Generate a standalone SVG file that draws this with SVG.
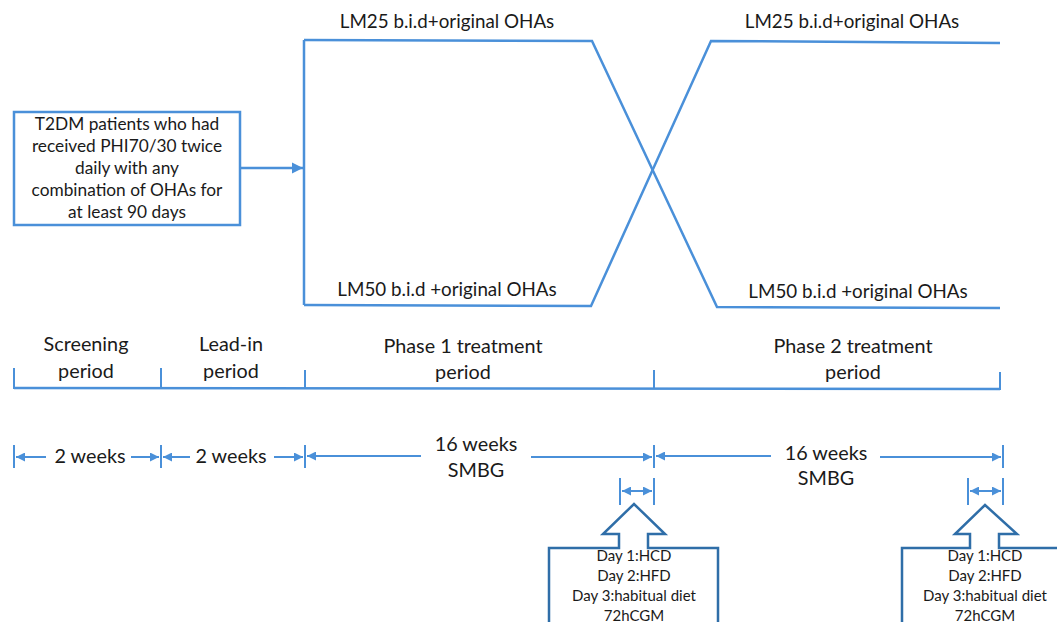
<svg xmlns="http://www.w3.org/2000/svg" width="1057" height="622" viewBox="0 0 1057 622">
<style>
.ln{fill:none;stroke:#4A90D9;stroke-width:2.5}
.tk{fill:none;stroke:#4A90D9;stroke-width:2}
.blk{fill:#fff;stroke:#2F6EA8;stroke-width:2.5}
text{font-family:Lato,"Noto Sans",sans-serif;fill:#1a1a1a;text-anchor:middle}
.b{font-size:17.3px}
.a{font-size:18.8px}
.t{font-size:19.8px}
.s{font-size:15px}
</style>
<defs>
<marker id="ah" viewBox="0 0 10 10" refX="10" refY="5" markerWidth="4.5" markerHeight="4.5" orient="auto-start-reverse" markerUnits="strokeWidth">
<path d="M0,0 L10,5 L0,10 z" fill="#4A90D9"/>
</marker>
</defs>
<rect width="1057" height="622" fill="#fff"/>
<g id="start">
<rect x="14" y="112" width="226" height="113" fill="#fff" stroke="#4A90D9" stroke-width="2.5"/>
<text class="b" x="127" y="130">T2DM patients who had</text>
<text class="b" x="127" y="152">received  PHI70/30 twice</text>
<text class="b" x="127" y="174">daily with any</text>
<text class="b" x="127" y="196">combination of OHAs for</text>
<text class="b" x="127" y="218">at least 90 days</text>
</g>
<g id="connectors">
<path class="ln" d="M240,168 L303,168" marker-end="url(#ah)"/>
<path class="ln" d="M304,40 L304,305"/>
<path class="ln" d="M304,40 L592,41 L717,307 L1000,308"/>
<path class="ln" d="M304,305 L591,306 L711,41 L1000,43"/>
<path class="ln" d="M14,388 L1000,389"/>
<path class="tk" d="M14,368 V389 M161,368 V389 M305,370 V389 M654,370 V389 M1000,372 V390"/>
<path class="tk" d="M14,445 V468 M161,445 V468 M305,445 V468 M654,445 V468 M1003,445 V468"/>
<path class="tk" d="M16,457 H46" marker-start="url(#ah)"/>
<path class="tk" d="M131,457 H159" marker-end="url(#ah)"/>
<path class="tk" d="M163,457 H190" marker-start="url(#ah)"/>
<path class="tk" d="M274,457 H303" marker-end="url(#ah)"/>
<path class="tk" d="M307,456 H421" marker-start="url(#ah)"/>
<path class="tk" d="M531,457 H652" marker-end="url(#ah)"/>
<path class="tk" d="M656,456 H771" marker-start="url(#ah)"/>
<path class="tk" d="M880,457 H1001" marker-end="url(#ah)"/>
<path class="tk" d="M620,478 V505 M654,478 V505 M968,478 V505 M1003,478 V505"/>
<path class="tk" d="M622,491 H652" marker-start="url(#ah)" marker-end="url(#ah)"/>
<path class="tk" d="M970,491 H1001" marker-start="url(#ah)" marker-end="url(#ah)"/>
</g>
<g id="arms">
<text class="a" x="447" y="28">LM25 b.i.d+original OHAs</text>
<text class="a" x="852" y="28">LM25 b.i.d+original OHAs</text>
<text class="a" x="447" y="296">LM50 b.i.d +original OHAs</text>
<text class="a" x="858" y="298">LM50 b.i.d +original OHAs</text>
</g>
<g id="periods">
<text class="t" x="86" y="351">Screening</text>
<text class="t" x="86" y="378">period</text>
<text class="t" x="231" y="351">Lead-in</text>
<text class="t" x="231" y="378">period</text>
<text class="t" x="463" y="353">Phase 1 treatment</text>
<text class="t" x="463" y="379">period</text>
<text class="t" x="853" y="353">Phase 2 treatment</text>
<text class="t" x="853" y="379">period</text>
</g>
<g id="durations">
<text class="t" x="90" y="463">2 weeks</text>
<text class="t" x="231" y="463">2 weeks</text>
<text class="t" x="476" y="451">16 weeks</text>
<text class="t" x="476" y="477">SMBG</text>
<text class="t" x="826" y="460">16 weeks</text>
<text class="t" x="826" y="485">SMBG</text>
</g>
<g id="cgm1">
<path class="blk" d="M549,625 V548 H619 V534 H603 L634,504 L665,534 H648 V548 H718 V625"/>
<text class="s" x="634" y="561">Day 1:HCD</text>
<text class="s" x="634" y="581">Day 2:HFD</text>
<text class="s" x="634" y="601">Day 3:habitual diet</text>
<text class="s" x="634" y="621">72hCGM</text>
</g>
<g id="cgm2">
<path class="blk" d="M902,625 V548 H970 V534 H955 L985,505 L1017,534 H999 V548 H1060"/>
<text class="s" x="985" y="561">Day 1:HCD</text>
<text class="s" x="985" y="581">Day 2:HFD</text>
<text class="s" x="985" y="601">Day 3:habitual diet</text>
<text class="s" x="985" y="621">72hCGM</text>
</g>
</svg>
